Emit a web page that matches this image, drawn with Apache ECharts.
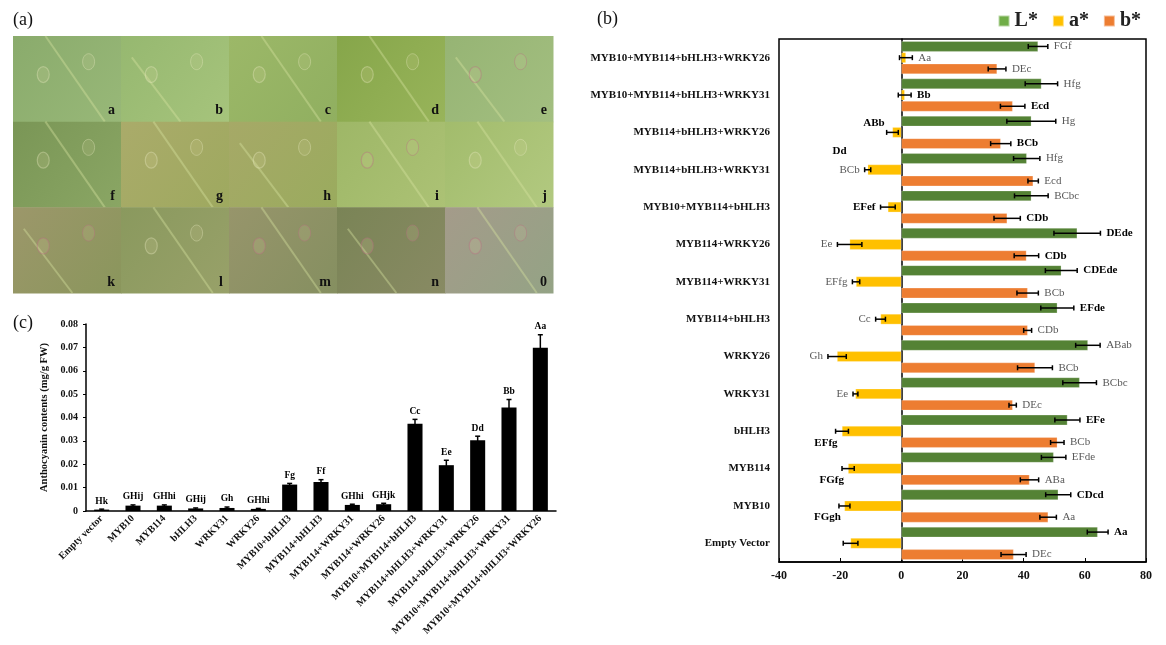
<!DOCTYPE html>
<html>
<head>
<meta charset="utf-8">
<script src="https://cdn.jsdelivr.net/npm/echarts@6/dist/echarts.min.js"></script>
<style>
  html, body { margin: 0; padding: 0; background: #fff; }
  #main { width: 1166px; height: 645px; }
</style>
</head>
<body>
<div id="main"></div>
<script>
// ---- panel (b): colour values, categories listed top to bottom ----
const catsB = ['MYB10+MYB114+bHLH3+WRKY26', 'MYB10+MYB114+bHLH3+WRKY31', 'MYB114+bHLH3+WRKY26',
    'MYB114+bHLH3+WRKY31', 'MYB10+MYB114+bHLH3', 'MYB114+WRKY26', 'MYB114+WRKY31', 'MYB114+bHLH3',
    'WRKY26', 'WRKY31', 'bHLH3', 'MYB114', 'MYB10', 'Empty Vector'];
const lVals = [44.7, 45.8, 42.5, 41.0, 42.5, 57.5, 52.3, 51.0, 61.0, 58.3, 54.3, 49.8, 51.3, 64.2];
const lErr  = [3.2, 5.3, 8.0, 4.3, 5.5, 7.6, 5.2, 5.4, 4.0, 5.5, 4.1, 4.0, 4.1, 3.4];
const aVals = [1.5, 1.1, -2.9, -11.0, -4.4, -16.9, -14.8, -6.8, -21.0, -15.0, -19.4, -17.4, -18.6, -16.6];
const aErr  = [2.1, 2.1, 1.9, 1.0, 2.4, 4.0, 1.2, 1.6, 3.0, 0.8, 2.1, 2.0, 1.8, 2.4];
const bVals = [31.3, 36.4, 32.5, 43.1, 34.6, 40.9, 41.3, 41.3, 43.7, 36.4, 51.0, 41.9, 48.0, 36.7];
const bErr  = [2.9, 4.0, 3.3, 1.7, 4.3, 4.0, 3.5, 1.3, 5.7, 1.2, 2.2, 3.0, 2.7, 4.1];

const lLab  = ['FGf', 'Hfg', 'Hg', 'Hfg', 'BCbc', 'DEde', 'CDEde', 'EFde', 'ABab', 'BCbc', 'EFe', 'EFde', 'CDcd', 'Aa'];
const lBold = [0, 0, 0, 0, 0, 1, 1, 1, 0, 0, 1, 0, 1, 1];
const aLab  = ['Aa', 'Bb', 'ABb', 'BCb', 'EFef', 'Ee', 'EFfg', 'Cc', 'Gh', 'Ee', 'EFfg', 'FGfg', 'FGgh', ''];
const aBold = [0, 1, 1, 0, 1, 0, 0, 0, 0, 0, 1, 1, 1, 0];
const bLab  = ['DEc', 'Ecd', 'BCb', 'Ecd', 'CDb', 'CDb', 'BCb', 'CDb', 'BCb', 'DEc', 'BCb', 'ABa', 'Aa', 'DEc'];
const bBold = [0, 1, 1, 0, 1, 1, 0, 0, 0, 0, 0, 0, 0, 0];
const xTicksB = { min: -40, max: 80, interval: 20 };

// ---- panel (c): anthocyanin ----
const catsC = ['Empty vector', 'MYB10', 'MYB114', 'bHLH3', 'WRKY31', 'WRKY26', 'MYB10+bHLH3', 'MYB114+bHLH3',
    'MYB114+WRKY31', 'MYB114+WRKY26', 'MYB10+MYB114+bHLH3', 'MYB114+bHLH3+WRKY31', 'MYB114+bHLH3+WRKY26',
    'MYB10+MYB114+bHLH3+WRKY31', 'MYB10+MYB114+bHLH3+WRKY26'];
const antho    = [0.0006, 0.0023, 0.0023, 0.0011, 0.0013, 0.0009, 0.0113, 0.0124, 0.0026, 0.0029, 0.0373, 0.0196, 0.0303, 0.0443, 0.0698];
const anthoErr = [0.0002, 0.0003, 0.0003, 0.0002, 0.0004, 0.0002, 0.0005, 0.0010, 0.0003, 0.0004, 0.0019, 0.0021, 0.0017, 0.0034, 0.0056];
const anthoLab = ['Hk', 'GHij', 'GHhi', 'GHij', 'Gh', 'GHhi', 'Fg', 'Ff', 'GHhi', 'GHjk', 'Cc', 'Ee', 'Dd', 'Bb', 'Aa'];
const yTicksC = { min: 0, max: 0.08, interval: 0.01 };

// ---- panel (a): leaf photos, only sketched ----
const photoLetters = ['a', 'b', 'c', 'd', 'e', 'f', 'g', 'h', 'i', 'j', 'k', 'l', 'm', 'n', '0'];

const SERIF = '"Liberation Serif", "DejaVu Serif", serif';
const GREEN = '#548235', YELLOW = '#FFC000', ORANGE = '#ED7D31';
const CAT_GAP = 0.12, BAR_GAP = 0.08;

// label placement tweaks for a* (row index -> where)
const aPlace = { 2: 'upLeft', 10: 'downLeft', 11: 'downLeft', 12: 'downLeft' };
const aExtra = { 3: 'Dd' };

function txt(text, x, y, size, bold, color, align, valign) {
    return {
        type: 'text',
        style: {
            text: text, x: x, y: y,
            font: (bold ? 'bold ' : '') + size + 'px ' + SERIF,
            fill: color,
            align: align, verticalAlign: valign,
            textAlign: align, textVerticalAlign: valign
        }
    };
}

function errSeriesB(k, vals, errs, labs, bolds) {
    return {
        type: 'custom',
        xAxisIndex: 1, yAxisIndex: 1, z: 5,
        data: vals.map((v, i) => [v, i, errs[i]]),
        renderItem: function (params, api) {
            const i = params.dataIndex;
            const v = api.value(0), e = api.value(2);
            const c = api.coord([v, i]);
            const band = api.size([0, 1])[1];
            const inner = band * (1 - CAT_GAP);
            const w = inner / (3 + 2 * BAR_GAP);
            const y = c[1] - inner / 2 + k * w * (1 + BAR_GAP) + w / 2;
            const lo = api.coord([v - e, i])[0], hi = api.coord([v + e, i])[0];
            const ls = { stroke: '#000', lineWidth: 1.5 };
            const kids = [
                { type: 'line', shape: { x1: lo, y1: y, x2: hi, y2: y }, style: ls },
                { type: 'line', shape: { x1: lo, y1: y - 2.5, x2: lo, y2: y + 2.5 }, style: ls },
                { type: 'line', shape: { x1: hi, y1: y - 2.5, x2: hi, y2: y + 2.5 }, style: ls }
            ];
            const lab = labs[i];
            if (lab) {
                const col = bolds[i] ? '#000' : '#595959';
                let place = v >= 0 ? 'right' : 'left';
                if (k === 1 && aPlace[i]) place = aPlace[i];
                if (place === 'right') kids.push(txt(lab, hi + 6, y, 11, bolds[i], col, 'left', 'middle'));
                else if (place === 'left') kids.push(txt(lab, lo - 5, y, 11, bolds[i], col, 'right', 'middle'));
                else if (place === 'upLeft') kids.push(txt(lab, lo - 2, y - w * 0.9, 11, bolds[i], col, 'right', 'middle'));
                else kids.push(txt(lab, lo + 2, y + w * 1.1, 11, bolds[i], col, 'right', 'middle'));
            }
            if (k === 1 && aExtra[i]) {
                kids.push(txt(aExtra[i], lo - 18, y - w * 1.8, 11, true, '#000', 'right', 'middle'));
            }
            return { type: 'group', children: kids };
        }
    };
}

// sketch of the photo grid
function photoGraphics() {
    const x0 = 13, y0 = 36, W = 540, H = 257;
    const cw = W / 5, ch = H / 3;
    const tones = [
        ['#8aab6c', '#98b878'], ['#96b870', '#a6c47c'], ['#9cb868', '#90af60'], ['#86a64a', '#98b45a'], ['#96b474', '#a3bf80'],
        ['#7a9656', '#8aa664'], ['#aaab6a', '#9ea95f'], ['#a6a967', '#9aab5e'], ['#9eb767', '#acc275'], ['#a2bc6c', '#b2c980'],
        ['#9c976a', '#8a965c'], ['#8a995e', '#98a169'], ['#97956b', '#858f60'], ['#7a8456', '#888a63'], ['#a49b8a', '#94a385']
    ];
    const pink = [10, 12, 13, 14, 8, 4];
    const els = [];
    photoLetters.forEach((letter, n) => {
        const r = Math.floor(n / 5), c = n % 5;
        const x = x0 + c * cw, y = y0 + r * ch;
        els.push({
            type: 'rect', shape: { x: x, y: y, width: cw + 0.5, height: ch + 0.5 },
            style: {
                fill: new echarts.graphic.LinearGradient(0, 0, 1, 1, [
                    { offset: 0, color: tones[n][0] }, { offset: 1, color: tones[n][1] }
                ])
            }
        });
        const flip = (n % 3 === 1);
        els.push({
            type: 'line',
            shape: flip ? { x1: x + cw * 0.1, y1: y + ch * 0.25, x2: x + cw * 0.55, y2: y + ch }
                        : { x1: x + cw * 0.3, y1: y, x2: x + cw * 0.85, y2: y + ch },
            style: { stroke: 'rgba(215,228,160,0.4)', lineWidth: 2 }
        });
        const spotCol = pink.indexOf(n) >= 0 ? 'rgba(185,110,130,0.4)' : 'rgba(235,235,195,0.35)';
        els.push({
            type: 'ellipse', shape: { cx: x + cw * 0.28, cy: y + ch * 0.45, rx: 6, ry: 8 },
            style: { fill: 'rgba(230,222,170,0.15)', stroke: spotCol, lineWidth: 1.2 }
        });
        els.push({
            type: 'ellipse', shape: { cx: x + cw * 0.7, cy: y + ch * 0.3, rx: 6, ry: 8 },
            style: { fill: 'rgba(230,222,170,0.12)', stroke: spotCol, lineWidth: 1 }
        });
        els.push(Object.assign(txt(letter, x + cw - 6, y + ch - 4, 14, true, '#111', 'right', 'bottom'), { z: 10 }));
    });
    return els;
}

const chart = echarts.init(document.getElementById('main'));

const option = {
    backgroundColor: '#fff',
    animation: false,
    textStyle: { fontFamily: SERIF },
    graphic: [
        txt('(a)', 13, 20, 18, false, '#111', 'left', 'middle'),
        txt('(b)', 597, 19, 18, false, '#111', 'left', 'middle'),
        txt('(c)', 13, 323, 18, false, '#111', 'left', 'middle')
    ].concat(photoGraphics()),
    legend: {
        right: 20, top: 6,
        icon: 'rect', itemWidth: 11, itemHeight: 11, itemGap: 14,
        textStyle: { fontFamily: SERIF, fontWeight: 'bold', fontSize: 20, color: '#222' },
        data: [
            { name: 'L*', itemStyle: { color: '#70AD47' } },
            { name: 'a*', itemStyle: { color: YELLOW } },
            { name: 'b*', itemStyle: { color: ORANGE } }
        ]
    },
    grid: [
        { left: 86, right: 610, top: 324, bottom: 134 },
        { left: 779, right: 20, top: 39, bottom: 83, show: true, borderColor: '#000', borderWidth: 1.5 }
    ],
    xAxis: [
        {
            gridIndex: 0, type: 'category', data: catsC,
            axisLine: { lineStyle: { color: '#000', width: 1.5 } },
            axisTick: { length: 3, lineStyle: { color: '#000' } },
            axisLabel: {
                interval: 0, rotate: 45, margin: 6, color: '#111',
                fontFamily: SERIF, fontWeight: 'bold', fontSize: 10
            }
        },
        {
            gridIndex: 1, type: 'value', min: xTicksB.min, max: xTicksB.max, interval: xTicksB.interval,
            axisLine: { show: true, lineStyle: { color: '#000', width: 1.5 } },
            axisTick: { show: true, inside: true, length: 4, lineStyle: { color: '#000' } },
            splitLine: { show: false },
            axisLabel: { color: '#111', fontFamily: SERIF, fontWeight: 'bold', fontSize: 12, margin: 8 }
        }
    ],
    yAxis: [
        {
            gridIndex: 0, type: 'value', min: yTicksC.min, max: yTicksC.max, interval: yTicksC.interval,
            name: 'Anthocyanin contents (mg/g FW)', nameLocation: 'middle', nameGap: 36,
            nameTextStyle: { fontFamily: SERIF, fontWeight: 'bold', fontSize: 10.5, color: '#111' },
            axisLine: { show: true, lineStyle: { color: '#000', width: 1.5 } },
            axisTick: { show: true, length: 3, lineStyle: { color: '#000' } },
            splitLine: { show: false },
            axisLabel: {
                color: '#111', fontFamily: SERIF, fontWeight: 'bold', fontSize: 10, margin: 8,
                formatter: v => v === 0 ? '0' : v.toFixed(2)
            }
        },
        {
            gridIndex: 1, type: 'category', data: catsB, inverse: true, position: 'left',
            axisLine: { onZero: true, lineStyle: { color: '#000', width: 1.5 } },
            axisTick: { inside: true, length: 3, lineStyle: { color: '#000' } },
            axisLabel: { show: false }
        },
        {
            gridIndex: 1, type: 'category', data: catsB, inverse: true, position: 'left',
            axisLine: { show: false, onZero: false },
            axisTick: { show: false },
            axisLabel: { color: '#111', fontFamily: SERIF, fontWeight: 'bold', fontSize: 11, margin: 9 }
        }
    ],
    series: [
        {
            name: 'anthocyanin', type: 'bar', xAxisIndex: 0, yAxisIndex: 0,
            data: antho, barWidth: '48%', itemStyle: { color: '#000' }
        },
        {
            type: 'custom', xAxisIndex: 0, yAxisIndex: 0, z: 5,
            data: antho.map((v, i) => [i, v, anthoErr[i]]),
            renderItem: function (params, api) {
                const i = params.dataIndex;
                const v = api.value(1), e = api.value(2);
                const top = api.coord([i, v + e]), bot = api.coord([i, v - e]);
                const ls = { stroke: '#000', lineWidth: 1.5 };
                return {
                    type: 'group', children: [
                        { type: 'line', shape: { x1: top[0], y1: top[1], x2: bot[0], y2: bot[1] }, style: ls },
                        { type: 'line', shape: { x1: top[0] - 2.5, y1: top[1], x2: top[0] + 2.5, y2: top[1] }, style: ls },
                        txt(anthoLab[i], top[0], top[1] - 3, 9.5, true, '#000', 'center', 'bottom')
                    ]
                };
            }
        },
        {
            name: 'L*', type: 'bar', xAxisIndex: 1, yAxisIndex: 1, data: lVals,
            barCategoryGap: (CAT_GAP * 100) + '%', barGap: (BAR_GAP * 100) + '%',
            itemStyle: { color: GREEN, borderColor: 'rgba(255,255,255,0.5)', borderWidth: 0.5 }
        },
        {
            name: 'a*', type: 'bar', xAxisIndex: 1, yAxisIndex: 1, data: aVals,
            barCategoryGap: (CAT_GAP * 100) + '%', barGap: (BAR_GAP * 100) + '%',
            itemStyle: { color: YELLOW, borderColor: 'rgba(255,255,255,0.5)', borderWidth: 0.5 }
        },
        {
            name: 'b*', type: 'bar', xAxisIndex: 1, yAxisIndex: 1, data: bVals,
            barCategoryGap: (CAT_GAP * 100) + '%', barGap: (BAR_GAP * 100) + '%',
            itemStyle: { color: ORANGE, borderColor: 'rgba(255,255,255,0.5)', borderWidth: 0.5 }
        },
        errSeriesB(0, lVals, lErr, lLab, lBold),
        errSeriesB(1, aVals, aErr, aLab, aBold),
        errSeriesB(2, bVals, bErr, bLab, bBold)
    ]
};

chart.setOption(option);
</script>
</body>
</html>
